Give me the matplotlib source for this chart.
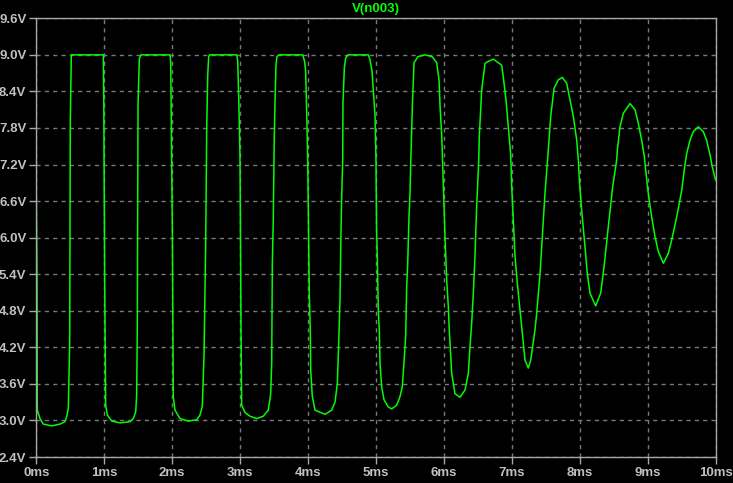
#!/usr/bin/env python3
import matplotlib
matplotlib.use('Agg')
import matplotlib.pyplot as plt

# V(n003) transient (time in ms, volts)
t_ms = [
    0.000, 0.012, 0.016, 0.056, 0.105, 0.228, 0.350, 0.424, 0.449, 0.473, 0.493, 0.502, 0.517, 0.988, 0.995, 1.008,
    1.023, 1.047, 1.111, 1.234, 1.381, 1.429, 1.465, 1.479, 1.488, 1.499, 1.518, 1.543, 1.970, 1.980, 1.989, 2.004,
    2.018, 2.043, 2.117, 2.239, 2.363, 2.411, 2.445, 2.470, 2.495, 2.510, 2.525, 2.539, 2.552, 2.952, 2.966, 2.981, 3.000, 3.015,
    3.025, 3.074, 3.147, 3.246, 3.343, 3.417, 3.452, 3.467, 3.476, 3.490, 3.505, 3.515, 3.530, 3.544, 3.574,
    3.923, 3.952, 3.967, 3.982, 3.997, 4.006, 4.020, 4.035,
    4.041, 4.065, 4.104, 4.252, 4.350, 4.399, 4.433, 4.453, 4.472, 4.487, 4.497, 4.512, 4.516, 4.536, 4.556, 4.590,
    4.889, 4.914, 4.943, 4.963, 4.988, 5.002, 5.010, 5.021, 5.036, 5.051,
    5.061, 5.086, 5.120, 5.183, 5.233, 5.307, 5.355, 5.389, 5.414, 5.439, 5.454, 5.469, 5.488, 5.503, 5.513, 5.537, 5.562,
    5.620, 5.724, 5.830, 5.896, 5.930, 5.945, 5.970, 5.993, 6.018, 6.043, 6.067, 6.081,
    6.117, 6.165, 6.239, 6.313, 6.361, 6.386, 6.411, 6.435, 6.459, 6.484, 6.514, 6.523, 6.558, 6.607, 6.632, 6.729,
    6.852, 6.876, 6.916, 6.950, 6.985, 7.000, 7.024, 7.049, 7.083, 7.122, 7.147,
    7.196, 7.244, 7.280, 7.343, 7.368, 7.417, 7.451, 7.490, 7.530, 7.539, 7.574, 7.623, 7.686, 7.745, 7.810, 7.858,
    7.907, 7.957, 7.981, 7.995, 8.030, 8.079, 8.113, 8.152,
    8.236, 8.310, 8.359, 8.422, 8.487, 8.546, 8.555, 8.594, 8.643, 8.741, 8.815, 8.863, 8.913, 8.952, 8.972,
    9.010, 9.060, 9.109, 9.158,
    9.232, 9.305, 9.355, 9.429, 9.503, 9.551, 9.576, 9.625, 9.673, 9.747, 9.820, 9.869, 9.919, 9.953, 10.000,
]
v_n003 = [
    6.78, 5.29, 3.17, 3.03, 2.94, 2.91, 2.94, 2.98, 3.06, 3.20, 4.29, 7.92, 9.00, 9.00, 8.26, 5.28,
    3.25, 3.09, 2.99, 2.96, 2.98, 3.03, 3.14, 3.42, 4.49, 8.18, 8.94, 9.00, 9.00, 8.88, 7.80, 6.15,
    3.39, 3.17, 3.03, 2.99, 3.01, 3.09, 3.23, 4.05, 5.88, 7.79, 8.67, 8.97, 9.00, 9.00, 8.90, 8.31, 7.35, 4.54,
    3.25, 3.13, 3.07, 3.03, 3.07, 3.17, 3.44, 3.94, 5.58, 6.29, 7.67, 8.20, 8.83, 8.97, 9.00,
    9.00, 8.89, 8.72, 8.04, 7.27, 6.45, 5.09, 4.48,
    3.83, 3.39, 3.17, 3.10, 3.17, 3.30, 3.61, 4.27, 4.98, 6.10, 6.67, 7.27, 8.21, 8.78, 8.95, 9.00,
    9.00, 8.92, 8.74, 8.40, 8.00, 7.27, 6.18, 5.70, 4.81, 4.48,
    3.94, 3.55, 3.34, 3.22, 3.19, 3.25, 3.39, 3.55, 3.94, 4.38, 5.19, 5.58, 6.34, 6.73, 7.20, 8.15, 8.87,
    8.97, 9.00, 8.97, 8.87, 8.59, 8.16, 7.67, 6.89, 6.02, 5.30, 4.87, 4.48,
    3.77, 3.44, 3.38, 3.50, 3.77, 4.21, 4.60, 5.09, 5.69, 6.51, 7.25, 7.67, 8.42, 8.86, 8.88, 8.93,
    8.83, 8.64, 8.26, 7.82, 7.36, 6.84, 6.29, 5.69, 5.25, 4.81, 4.52,
    3.99, 3.86, 3.99, 4.49, 4.76, 5.41, 6.02, 6.73, 7.30, 7.44, 7.99, 8.45, 8.59, 8.63, 8.53, 8.26,
    7.99, 7.60, 7.27, 6.95, 6.45, 5.85, 5.41, 5.09,
    4.88, 5.09, 5.52, 6.18, 6.84, 7.28, 7.44, 7.82, 8.04, 8.20, 8.10, 7.88, 7.60, 7.33, 7.11,
    6.73, 6.34, 6.02, 5.77,
    5.58, 5.74, 5.96, 6.34, 6.78, 7.20, 7.38, 7.60, 7.74, 7.82, 7.74, 7.60, 7.36, 7.16, 6.95,
]

x_ticks = list(range(0, 11))
y_ticks = [2.4, 3.0, 3.6, 4.2, 4.8, 5.4, 6.0, 6.6, 7.2, 7.8, 8.4, 9.0, 9.6]

trace_color = '#00ff00'
frame_color = '#a8a8a8'
label_color = '#c0c0c0'
font = 'Liberation Sans'


def main():
    fig = plt.figure(figsize=(7.33, 4.83), dpi=100, facecolor='black')
    ax = fig.add_axes([36.2 / 733, 1 - 457.0 / 483, (715.5 - 36.2) / 733, (457.0 - 18.3) / 483])
    ax.set_facecolor('black')

    ax.plot(t_ms, v_n003, color=trace_color, linewidth=1.1)

    ax.set_xlim(0, 10)
    ax.set_ylim(2.4, 9.6)
    ax.set_xticks(x_ticks)
    ax.set_xticklabels(['{}ms'.format(t) for t in x_ticks])
    ax.set_yticks(y_ticks)
    ax.set_yticklabels(['{:.1f}V'.format(v) for v in y_ticks])

    ax.tick_params(axis='both', colors=frame_color, labelcolor=label_color,
                   direction='out', length=5, width=1, labelsize=9.5, pad=2)
    for lab in ax.get_xticklabels() + ax.get_yticklabels():
        lab.set_fontweight('bold')
        lab.set_family(font)

    ax.grid(True, color='#7a7a7a', linestyle=(0, (3, 3)), linewidth=1)
    for side in ax.spines.values():
        side.set_color(frame_color)
        side.set_linewidth(1)

    fig.text(0.5 * (36.2 + 715.5) / 733, 1 - 9.0 / 483, 'V(n003)', color=trace_color,
             ha='center', va='center', fontsize=9.5, fontweight='bold', family=font)

    fig.savefig('out.png', dpi=100, facecolor='black')


if __name__ == '__main__':
    main()
